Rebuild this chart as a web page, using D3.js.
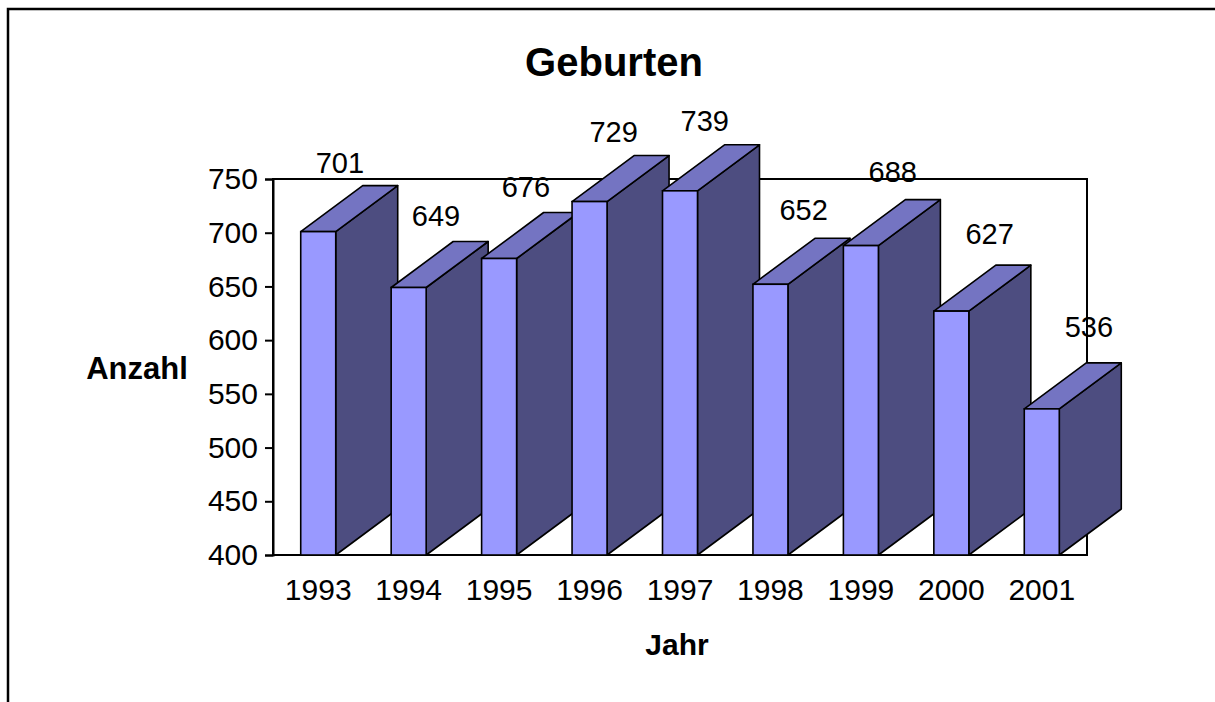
<!DOCTYPE html>
<html>
<head>
<meta charset="utf-8">
<script src="https://cdn.jsdelivr.net/npm/d3@7/dist/d3.min.js"></script>
<style>
  html, body { margin: 0; padding: 0; background: #fff; }
  svg { display: block; font-family: "Liberation Sans", Arial, sans-serif; }
</style>
</head>
<body>
<svg id="chart" width="1215" height="702"></svg>
<script>
const years = ["1993", "1994", "1995", "1996", "1997", "1998", "1999", "2000", "2001"];
const births = [701, 649, 676, 729, 739, 652, 688, 627, 536];
const yTicks = [400, 450, 500, 550, 600, 650, 700, 750];
const chartTitle = "Geburten";
const xTitle = "Jahr";
const yTitle = "Anzahl";

const svg = d3.select("#chart");
const plot = { left: 273, right: 1087, top: 179, bottom: 555 };
const depth = { dx: 62, dy: 46 };
const colors = { front: "#9999ff", top: "#7474c2", side: "#4d4d80" };
const FONT = "'Liberation Sans', Arial, sans-serif";

// outer frame (extends beyond the bottom/right edge)
svg.append("rect")
  .attr("x", 8).attr("y", 9).attr("width", 1214).attr("height", 720)
  .attr("fill", "#fff").attr("stroke", "#000").attr("stroke-width", 2.5);

const x = d3.scaleBand().domain(years)
  .range([plot.left, plot.right])
  .paddingInner(0.613).paddingOuter(0.3065);
const y = d3.scaleLinear().domain([400, 750]).range([plot.bottom, plot.top]);

// plot area frame
svg.append("rect")
  .attr("x", plot.left).attr("y", plot.top)
  .attr("width", plot.right - plot.left).attr("height", plot.bottom - plot.top)
  .attr("fill", "none").attr("stroke", "#000").attr("stroke-width", 2);

// y axis
const yAxis = svg.append("g")
  .attr("transform", `translate(${plot.left},0)`)
  .call(d3.axisLeft(y).tickValues(yTicks).tickFormat(d3.format("d")).tickSize(8).tickPadding(7));
yAxis.select(".domain").attr("stroke", "#000").attr("stroke-width", 2);
yAxis.selectAll(".tick line").attr("stroke", "#000").attr("stroke-width", 2);
yAxis.selectAll(".tick text").attr("font-size", 30).attr("fill", "#000").attr("font-family", FONT);

// x axis labels
const xAxis = svg.append("g")
  .attr("transform", `translate(0,${plot.bottom})`)
  .call(d3.axisBottom(x).tickSize(0));
xAxis.select(".domain").remove();
xAxis.selectAll(".tick text").attr("font-size", 30).attr("fill", "#000")
  .attr("font-family", FONT).attr("dy", 0).attr("y", 45);

// 3D bars
const bw = x.bandwidth();
const data = years.map((yr, i) => ({ yr, v: births[i], i }));
const bars = svg.append("g").selectAll("g").data(data).join("g");
const pts = a => a.map(p => p.join(",")).join(" ");

bars.each(function (d) {
  const g = d3.select(this);
  const x0 = x(d.yr), x1 = x0 + bw;
  const yt = y(d.v), yb = y(400);
  const dx = depth.dx, dy = depth.dy;
  g.append("polygon")
    .attr("points", pts([[x1, yt], [x1 + dx, yt - dy], [x1 + dx, yb - dy], [x1, yb]]))
    .attr("fill", colors.side).attr("stroke", "#000").attr("stroke-width", 1.6).attr("stroke-linejoin", "round");
  g.append("polygon")
    .attr("points", pts([[x0, yt], [x0 + dx, yt - dy], [x1 + dx, yt - dy], [x1, yt]]))
    .attr("fill", colors.top).attr("stroke", "#000").attr("stroke-width", 1.6).attr("stroke-linejoin", "round");
  g.append("rect")
    .attr("x", x0).attr("y", yt).attr("width", bw).attr("height", yb - yt)
    .attr("fill", colors.front).attr("stroke", "#000").attr("stroke-width", 1.6);
});

// value labels (placed above the bar tops, drifting with perspective)
const maxV = y.domain()[1];
svg.append("g").selectAll("text").data(data).join("text")
  .attr("x", d => x(d.yr) + bw / 2 + 17.8 + 1.52 * d.i + 0.08 * (maxV - d.v))
  .attr("y", d => y(d.v) - 56.1 - 0.73 * d.i - 0.0465 * (maxV - d.v))
  .attr("text-anchor", "middle")
  .attr("font-size", 29)
  .attr("font-family", FONT)
  .attr("fill", "#000")
  .text(d => d.v);

// titles
svg.append("text").attr("x", 614).attr("y", 76).attr("text-anchor", "middle")
  .attr("font-size", 40).attr("font-weight", "bold").attr("font-family", FONT).text(chartTitle);
svg.append("text").attr("x", 677).attr("y", 655).attr("text-anchor", "middle")
  .attr("font-size", 30).attr("font-weight", "bold").attr("font-family", FONT).text(xTitle);
svg.append("text").attr("x", 137).attr("y", 379).attr("text-anchor", "middle")
  .attr("font-size", 31).attr("font-weight", "bold").attr("font-family", FONT).text(yTitle);
</script>
</body>
</html>
